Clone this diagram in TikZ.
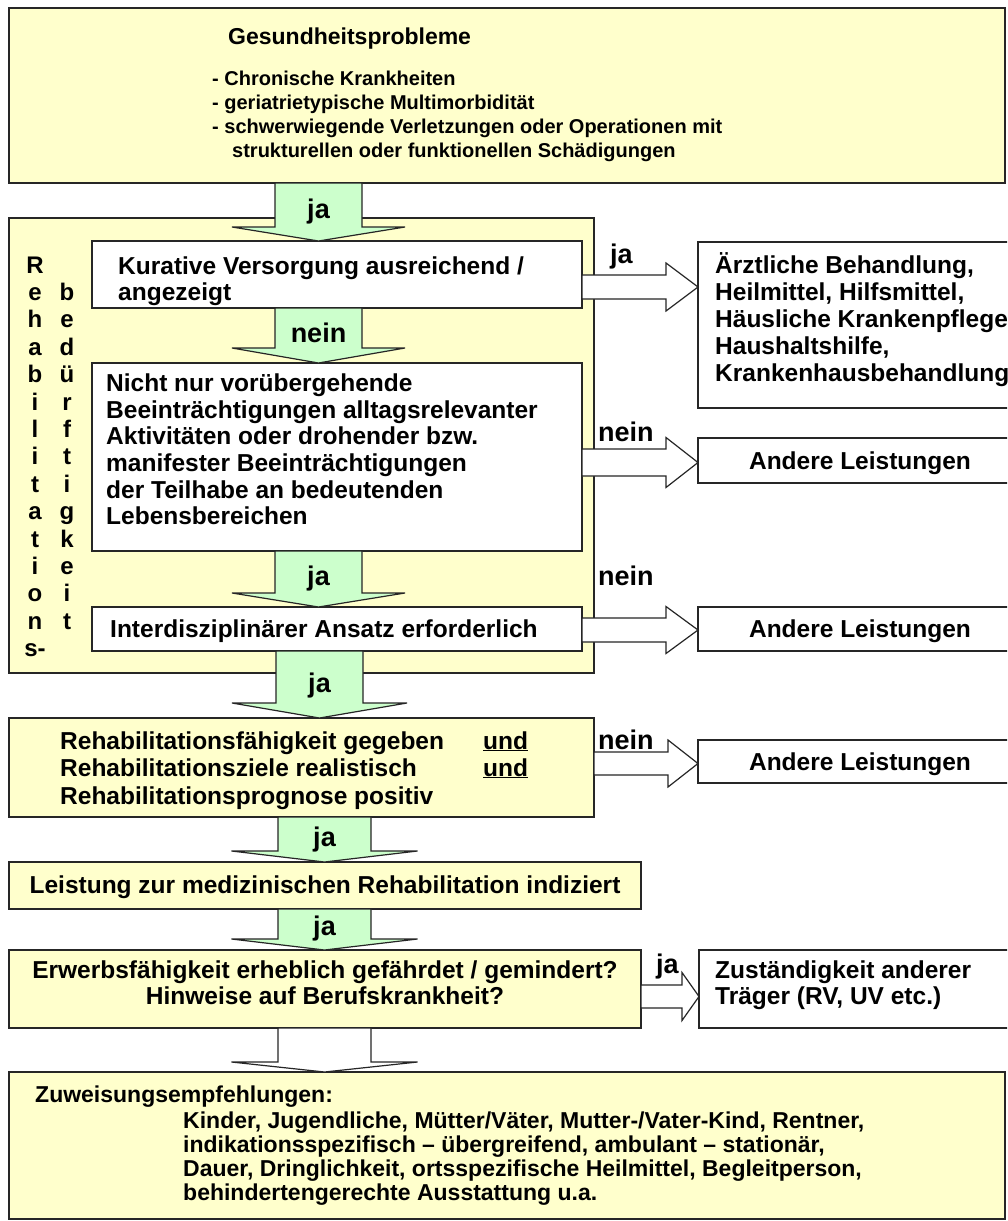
\documentclass[tikz,border=0pt]{standalone}
\usepackage{fontspec}
\setmainfont{Liberation Sans}
\usetikzlibrary{calc}
\definecolor{ylw}{HTML}{FFFFCC}
\definecolor{grn}{HTML}{CCFFCC}
\tikzset{
 box/.style={draw=black!85, line width=1.4pt, anchor=north west, inner sep=0pt, outer sep=0pt},
 ybox/.style={box, fill=ylw},
 wbox/.style={box, fill=white},
 garrow/.style={draw=black!85, line width=1.2pt, fill=grn},
 warrow/.style={draw=black!85, line width=1.2pt, fill=white},
 txt/.style={anchor=base west, inner sep=0pt, font=\fontsize{24.5}{26}\selectfont\bfseries},
 ctxt/.style={txt, anchor=base},
 smtxt/.style={anchor=base west, inner sep=0pt, font=\fontsize{20}{23}\selectfont\bfseries},
 bttxt/.style={anchor=base west, inner sep=0pt, font=\fontsize{23}{25}\selectfont\bfseries},
 lbl/.style={anchor=base west, inner sep=0pt, font=\fontsize{27}{30}\selectfont\bfseries},
 clbl/.style={lbl, anchor=base},
 vl/.style={anchor=base, inner sep=0pt, font=\fontsize{24}{26}\selectfont\bfseries},
}
\newcommand\mkbox[6]{\node[#1, minimum width={(#5-#3)*1pt}, minimum height={(#6-#4)*1pt}] (#2) at (#3,#4) {};}
\newcommand\vblock[7]{%
 \draw[#1] let \p1=(#2.south), \p2=(#3.north) in
  ({(#4-#5)*1pt},\y1) -- ({(#4-#5)*1pt},{\y2+#7pt}) -- ({(#4-#6)*1pt},{\y2+#7pt}) -- ({#4*1pt},\y2)
  -- ({(#4+#6)*1pt},{\y2+#7pt}) -- ({(#4+#5)*1pt},{\y2+#7pt}) -- ({(#4+#5)*1pt},\y1) -- cycle;}
\newcommand\hblock[7]{%
 \draw[#1] let \p1=(#2.east), \p2=(#3.west) in
  (\x1,{-(#4-#5)*1pt}) -- ({\x2-#7pt},{-(#4-#5)*1pt}) -- ({\x2-#7pt},{-(#4-#6)*1pt}) -- (\x2,{-#4*1pt})
  -- ({\x2-#7pt},{-(#4+#6)*1pt}) -- ({\x2-#7pt},{-(#4+#5)*1pt}) -- (\x1,{-(#4+#5)*1pt}) -- cycle;}
\begin{document}
\begin{tikzpicture}[x=1pt,y=-1pt]
\useasboundingbox (0,0) rectangle (1007,1221);
\fill[white] (0,0) rectangle (1007,1221);
\clip (0,0) rectangle (1007,1221);
% boxes
\mkbox{ybox}{top}{9}{8}{1005}{183}
\mkbox{ybox}{big}{9}{218}{594}{673}
\mkbox{wbox}{kur}{92}{241}{582}{308}
\mkbox{wbox}{nicht}{92}{363}{582}{551}
\mkbox{wbox}{inter}{92}{607}{582}{651}
\mkbox{ybox}{reha}{9}{718}{594}{817}
\mkbox{ybox}{leist}{9}{862}{641}{909}
\mkbox{ybox}{erw}{9}{950}{641}{1028}
\mkbox{ybox}{bot}{9}{1072}{1005}{1219}
\mkbox{wbox}{r1}{698}{242}{1030}{408}
\mkbox{wbox}{r2}{698}{438}{1030}{483}
\mkbox{wbox}{r3}{698}{607}{1030}{651}
\mkbox{wbox}{r4}{698}{740}{1030}{783}
\mkbox{wbox}{r5}{699}{950}{1030}{1028}
% vertical arrows
\vblock{garrow}{top}{kur}{318.5}{43.5}{86.5}{14}
\vblock{garrow}{kur}{nicht}{318.5}{43.5}{86.5}{15}
\vblock{garrow}{nicht}{inter}{318.5}{43.5}{86.5}{14}
\vblock{garrow}{inter}{reha}{319.5}{43.5}{87.5}{15}
\vblock{garrow}{reha}{leist}{324.5}{46.5}{93}{11}
\vblock{garrow}{leist}{erw}{324.5}{46.5}{93}{11}
\vblock{warrow}{erw}{bot}{324.5}{46.5}{93}{10}
% horizontal arrows
\hblock{warrow}{kur}{r1}{287}{12}{24}{32}
\hblock{warrow}{nicht}{r2}{462.5}{13.5}{25}{32}
\hblock{warrow}{inter}{r3}{630}{12}{23.5}{32}
\hblock{warrow}{reha}{r4}{763.5}{11.5}{23.5}{30}
\hblock{warrow}{erw}{r5}{996.5}{11.5}{24}{17}
% arrow labels
\node[clbl] (la1) at (318.5,218) {ja};
\node[clbl] (la2) at (318.5,342) {nein};
\node[clbl] (la3) at (318.5,585) {ja};
\node[clbl] (la4) at (319.5,692) {ja};
\node[clbl] (la5) at (324.5,846) {ja};
\node[clbl] (la6) at (324.5,935) {ja};
\node[lbl] (lr1) at (610,263) {ja};
\node[lbl] (lr2) at (598,441) {nein};
\node[lbl] (lr3) at (598,585) {nein};
\node[lbl] (lr4) at (598,749) {nein};
\node[lbl] (lr5) at (656,973) {ja};
% top box
\node[anchor=base west, inner sep=0pt, font=\fontsize{23}{26}\selectfont\bfseries] (th) at (228,44) {Gesundheitsprobleme};
\node[smtxt] (t1) at (212,85) {- Chronische Krankheiten};
\node[smtxt] (t2) at (212,109) {- geriatrietypische Multimorbidität};
\node[smtxt] (t3) at (212,133) {- schwerwiegende Verletzungen oder Operationen mit};
\node[smtxt] (t4) at (232,157) {strukturellen oder funktionellen Schädigungen};
% vertical words
\foreach \ch [count=\i from 0] in {R,e,h,a,b,i,l,i,t,a,t,i,o,n,s-}
  \node[vl] (ca\i) at (35,{273+27.4*\i}) {\ch};
\foreach \ch [count=\i from 1] in {b,e,d,ü,r,f,t,i,g,k,e,i,t}
  \node[vl] (cb\i) at (67,{273+27.4*\i}) {\ch};
% inner texts
\node[txt] (k1) at (118,274) {Kurative Versorgung ausreichend /};
\node[txt] (k2) at (118,300) {angezeigt};
\node[txt] (n1) at (106,391) {Nicht nur vorübergehende};
\node[txt] (n2) at (106,418) {Beeinträchtigungen alltagsrelevanter};
\node[txt] (n3) at (106,444) {Aktivitäten oder drohender bzw.};
\node[txt] (n4) at (106,471) {manifester Beeinträchtigungen};
\node[txt] (n5) at (106,498) {der Teilhabe an bedeutenden};
\node[txt] (n6) at (106,524) {Lebensbereichen};
\node[txt] (i1) at (110,637) {Interdisziplinärer Ansatz erforderlich};
\node[txt] (h1) at (60,749) {Rehabilitationsfähigkeit gegeben};
\node[txt] (h2) at (60,776) {Rehabilitationsziele realistisch};
\node[txt] (h3) at (60,804) {Rehabilitationsprognose positiv};
\node[txt] (u1) at (483,749) {\underline{und}};
\node[txt] (u2) at (483,776) {\underline{und}};
\node[ctxt] (l1) at (325,893) {Leistung zur medizinischen Rehabilitation indiziert};
\node[ctxt] (e1) at (325,978) {Erwerbsfähigkeit erheblich gefährdet / gemindert?};
\node[ctxt] (e2) at (325,1004) {Hinweise auf Berufskrankheit?};
% right boxes
\node[txt] (a1) at (715,273) {Ärztliche Behandlung,};
\node[txt] (a2) at (715,300) {Heilmittel, Hilfsmittel,};
\node[txt] (a3) at (715,327) {Häusliche Krankenpflege};
\node[txt] (a4) at (715,354) {Haushaltshilfe,};
\node[txt] (a5) at (715,381) {Krankenhausbehandlung};
\node[ctxt] (o1) at (860,469) {Andere Leistungen};
\node[ctxt] (o2) at (860,637) {Andere Leistungen};
\node[ctxt] (o3) at (860,770) {Andere Leistungen};
\node[txt] (z1) at (715,978) {Zuständigkeit anderer};
\node[txt] (z2) at (715,1004) {Träger (RV, UV etc.)};
% bottom box
\node[bttxt] (b0) at (35,1102) {Zuweisungsempfehlungen:};
\node[bttxt] (b1) at (183,1128) {Kinder, Jugendliche, Mütter/Väter, Mutter-/Vater-Kind, Rentner,};
\node[bttxt] (b2) at (183,1152) {indikationsspezifisch – übergreifend, ambulant – stationär,};
\node[bttxt] (b3) at (183,1176) {Dauer, Dringlichkeit, ortsspezifische Heilmittel, Begleitperson,};
\node[bttxt] (b4) at (183,1200) {behindertengerechte Ausstattung u.a.};
\end{tikzpicture}
\end{document}
